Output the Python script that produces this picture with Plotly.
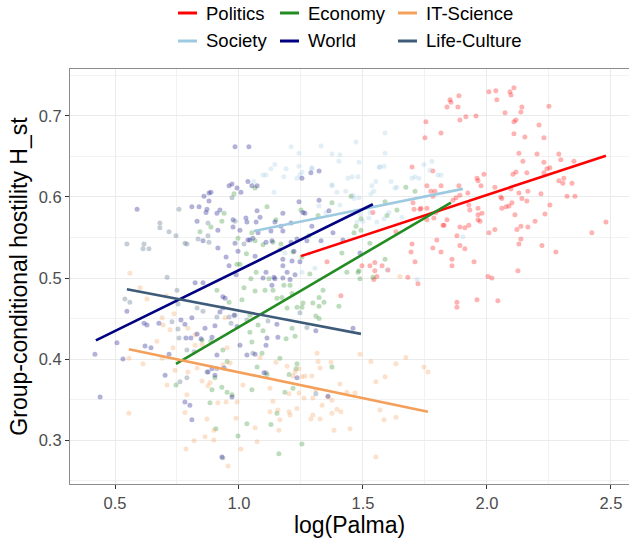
import plotly.graph_objects as go

categories = ["Politics", "Economy", "IT-Science", "Society", "World", "Life-Culture"]
colors = ["#FF0000", "#228B22", "#F4A05A", "#9ECAE1", "#000080", "#3E5C7A"]

politics_pts = [(1.851,0.720),(1.887,0.725),(1.883,0.711),(1.891,0.695),(1.915,0.699),(1.956,0.700),(2.008,0.730),(2.036,0.731),(2.040,0.720),(2.093,0.730),(2.097,0.726),(2.109,0.735),(2.141,0.711),(2.137,0.705),(2.073,0.704),(2.250,0.712),(2.117,0.695),(2.109,0.693),(2.109,0.678),(2.153,0.674),(2.210,0.689),(2.230,0.673),(2.129,0.654),(2.202,0.653),(2.290,0.653),(2.298,0.646),(2.351,0.644),(2.145,0.644),(2.230,0.643),(2.242,0.635),(2.254,0.636),(2.230,0.630),(2.117,0.631),(2.105,0.628),(2.161,0.630),(2.310,0.623),(2.290,0.620),(2.306,0.617),(2.343,0.617),(1.988,0.628),(1.960,0.623),(1.964,0.620),(1.976,0.614),(2.032,0.612),(1.887,0.614),(1.923,0.605),(1.891,0.602),(1.875,0.599),(1.863,0.596),(2.056,0.600),(2.060,0.598),(2.097,0.610),(2.129,0.605),(2.141,0.598),(2.165,0.607),(2.161,0.595),(2.218,0.604),(2.323,0.601),(2.355,0.601),(2.254,0.590),(2.101,0.593),(2.089,0.589),(2.077,0.588),(2.060,0.586),(1.927,0.590),(1.931,0.584),(1.964,0.586),(1.980,0.580),(1.964,0.578),(1.964,0.572),(1.972,0.570),(2.113,0.578),(2.234,0.579),(2.194,0.570),(2.480,0.569),(2.137,0.564),(2.165,0.563),(2.121,0.560),(2.032,0.560),(2.008,0.556),(1.927,0.565),(1.911,0.562),(1.891,0.563),(1.879,0.552),(2.423,0.556),(2.137,0.548),(2.129,0.542),(2.222,0.540),(1.891,0.540),(1.911,0.536),(2.278,0.532),(1.859,0.523),(1.948,0.520),(1.859,0.515),(2.125,0.509),(2.004,0.502),(2.020,0.500),(1.879,0.470),(1.879,0.464),(1.960,0.473),(2.044,0.472),
(1.839,0.711),(1.855,0.717),(1.754,0.693),(1.815,0.679),(1.750,0.673),(1.698,0.637),(1.782,0.632),(1.758,0.614),(1.774,0.607),(1.790,0.607),(1.815,0.614),(1.782,0.601),(1.702,0.593),(1.734,0.586),(1.758,0.586),(1.706,0.585),(1.794,0.581),(1.827,0.565),(1.540,0.581),(1.633,0.557),(1.698,0.542),(1.782,0.537),(1.815,0.532),(1.694,0.532),(1.355,0.520),(1.496,0.515),(1.528,0.515),(1.548,0.519),(1.548,0.509),(1.577,0.515),(1.601,0.510),(1.556,0.502),(1.730,0.585),(1.758,0.572),(1.786,0.574),(1.823,0.565),(1.839,0.572),(1.798,0.547),(1.710,0.520),(1.681,0.501),(1.722,0.493),(1.411,0.478),(1.544,0.498)]

economy_pts = [(0.980,0.604),(0.940,0.580),(0.931,0.570),(0.887,0.563),(0.843,0.557),(0.996,0.549),(1.052,0.556),(1.065,0.546),(0.992,0.517),(1.004,0.517),(1.048,0.499),(1.069,0.507),(1.065,0.611),
(1.113,0.588),(1.149,0.572),(1.169,0.542),(1.250,0.584),(1.375,0.593),(1.319,0.577),(1.452,0.601),(1.492,0.573),(1.472,0.564),(1.464,0.556),(1.415,0.531),(1.435,0.507),(1.484,0.509),(1.528,0.543),(1.589,0.594),(1.597,0.577),(1.637,0.584),(1.673,0.612),(1.710,0.607),(1.589,0.523),(1.282,0.552),(1.218,0.532),(1.254,0.526),(1.286,0.505),(1.492,0.559),(1.540,0.501),(1.488,0.499),(1.480,0.507),(1.403,0.465),(1.375,0.390),
(0.911,0.485),(1.012,0.473),(1.065,0.484),(0.851,0.423),(0.887,0.422),(0.935,0.411),(0.952,0.397),(0.903,0.377),(0.891,0.362),(0.931,0.365),(0.972,0.356),(0.883,0.346),(0.952,0.359),(0.746,0.368),(0.907,0.314),(0.996,0.305),(1.032,0.320),(1.044,0.454),(1.044,0.433),(1.052,0.421),(1.077,0.442),(1.073,0.390),(1.052,0.362),
(1.121,0.499),(1.137,0.485),(1.105,0.485),(1.153,0.475),(1.173,0.476),(1.194,0.463),(1.181,0.491),(1.214,0.481),(1.234,0.464),(1.254,0.464),(1.258,0.469),(1.298,0.469),(1.323,0.476),(1.339,0.485),(1.343,0.470),(1.323,0.465),(1.310,0.453),(1.323,0.450),(1.214,0.438),(1.226,0.428),(1.190,0.425),(1.097,0.435),(1.165,0.401),(1.093,0.407),(1.234,0.394),(1.230,0.388),(1.113,0.381),(1.202,0.381),(1.218,0.364),(1.185,0.359),(1.153,0.333),(1.129,0.319),(1.254,0.295),(1.161,0.283),
(1.097,0.541),(1.137,0.544),(1.165,0.535),(1.206,0.491),(1.030,0.530),(1.020,0.488),(0.960,0.470)]

itscience_pts = [(0.556,0.333),(0.601,0.488),(0.629,0.474),(0.556,0.401),(0.613,0.394),(0.669,0.422),(0.690,0.451),(0.694,0.442),(0.722,0.436),(0.690,0.401),(0.734,0.414),(0.738,0.456),(0.794,0.438),(0.823,0.430),(0.823,0.417),(0.851,0.418),(0.742,0.386),(0.710,0.368),(0.794,0.384),(0.831,0.389),(0.851,0.373),(0.883,0.371),(0.935,0.393),(0.875,0.367),(0.790,0.356),(0.782,0.334),(0.871,0.326),(0.899,0.312),(0.899,0.300),(0.863,0.304),(0.819,0.299),(0.786,0.289),(0.956,0.268),(0.988,0.327),(1.008,0.289),(0.915,0.346),(0.948,0.347),(0.992,0.347),(0.952,0.414),(0.964,0.395),(1.016,0.368),(1.065,0.315),(1.073,0.298),(0.944,0.451),(0.560,0.506),(0.706,0.478),
(1.085,0.402),(1.149,0.396),(1.194,0.391),(1.226,0.384),(1.242,0.388),(1.218,0.379),(1.254,0.378),(1.266,0.379),(1.294,0.379),(1.327,0.389),(1.315,0.407),(1.319,0.397),(1.371,0.396),(1.125,0.364),(1.202,0.357),(1.242,0.358),(1.262,0.352),(1.298,0.352),(1.310,0.362),(1.359,0.353),(1.375,0.349),(1.407,0.369),(1.435,0.359),(1.468,0.358),(1.335,0.343),(1.137,0.348),(1.125,0.335),(1.157,0.337),(1.202,0.335),(1.234,0.339),(1.206,0.331),(1.298,0.331),(1.290,0.326),(1.327,0.326),(1.375,0.333),(1.395,0.338),(1.411,0.335),(1.165,0.325),(1.161,0.312),(1.383,0.312),(1.448,0.314),(1.488,0.406),(1.532,0.397),(1.552,0.372),(1.589,0.378),(1.569,0.337),(1.585,0.325),(1.633,0.328),(1.633,0.394),(1.673,0.402),(1.746,0.390),(1.762,0.384),(1.552,0.279),(1.649,0.502)]

society_pts = [(1.210,0.662),(1.242,0.654),(1.331,0.663),(1.375,0.653),(1.472,0.668),(1.589,0.679),(1.407,0.652),(1.484,0.643),(1.403,0.644),(1.145,0.640),(1.129,0.635),(1.097,0.627),(1.190,0.635),(1.242,0.638),(1.294,0.636),(1.254,0.631),(1.234,0.623),(1.141,0.606),(1.375,0.614),(1.456,0.625),(1.480,0.625),(1.431,0.607),(1.460,0.602),(1.464,0.598),(1.484,0.599),(1.395,0.606),(1.565,0.637),(1.585,0.638),(1.552,0.619),(1.536,0.614),(1.544,0.607),(1.532,0.604),(1.629,0.611),(1.637,0.612),(1.710,0.625),(1.726,0.623),(1.746,0.640),(1.778,0.644),(1.815,0.627),(1.407,0.590),(1.323,0.589),(1.351,0.581),(1.488,0.579),(1.524,0.574),(1.585,0.573),(1.605,0.581),(1.254,0.507),(1.597,0.510),(1.500,0.570),(1.476,0.569),(1.060,0.619),(1.109,0.627),(1.185,0.531),(1.282,0.530),(1.306,0.512),(1.589,0.654),(1.569,0.637),(1.440,0.623),(1.613,0.619),(1.698,0.623),(1.770,0.633),(1.802,0.627),(1.375,0.615),(1.528,0.581),(1.556,0.569),(1.657,0.575),(1.718,0.498),(1.903,0.551),(1.181,0.625),(1.294,0.635),(1.246,0.627)]

world_pts = [(0.984,0.662),(1.040,0.662),(0.960,0.614),(0.972,0.616),(0.992,0.611),(1.008,0.606),(1.036,0.619),(1.052,0.614),(1.073,0.614),(0.859,0.601),(0.879,0.605),(0.887,0.606),(0.879,0.595),(0.589,0.585),(0.810,0.588),(0.839,0.588),(0.871,0.585),(0.867,0.581),(0.923,0.584),(0.911,0.580),(0.831,0.570),(0.976,0.572),(1.028,0.574),(1.032,0.569),(1.069,0.569),(1.073,0.583),(1.004,0.559),(0.976,0.563),(0.915,0.559),(0.855,0.546),(0.915,0.537),(0.984,0.543),(0.996,0.533),(1.036,0.547),(1.044,0.547),(1.056,0.549),(1.065,0.527),(0.948,0.526),(0.960,0.515),(0.988,0.504),(1.077,0.556),
(0.419,0.406),(0.440,0.353),(0.508,0.420),(0.532,0.400),(0.548,0.459),(0.617,0.444),(0.629,0.442),(0.645,0.414),(0.621,0.416),(0.702,0.380),(0.718,0.406),(0.677,0.444),(0.766,0.448),(0.782,0.443),(0.810,0.451),(0.823,0.494),(0.855,0.494),(0.786,0.426),(0.806,0.426),(0.831,0.431),(0.847,0.425),(0.863,0.438),(0.891,0.427),(0.903,0.441),(0.935,0.477),(0.944,0.475),(0.935,0.463),(0.923,0.458),(0.980,0.454),(0.992,0.440),(1.004,0.417),(0.911,0.405),(0.940,0.389),(0.891,0.388),(0.875,0.384),(0.802,0.343),(0.782,0.347),(0.810,0.325),(0.931,0.279),(0.903,0.380),(0.972,0.353),(1.032,0.405),(1.065,0.406),
(1.254,0.623),(1.290,0.630),(1.323,0.632),(1.242,0.594),(1.258,0.581),(1.266,0.580),(1.323,0.596),(1.363,0.583),(1.177,0.580),(1.145,0.569),(1.085,0.575),(1.129,0.558),(1.177,0.558),(1.169,0.564),(1.210,0.568),(1.294,0.564),(1.234,0.548),(1.210,0.544),(1.133,0.546),(1.109,0.544),(1.222,0.533),(1.274,0.546),(1.331,0.546),(1.379,0.556),(1.246,0.520),(1.214,0.521),(1.177,0.523),(1.177,0.515),(1.194,0.507),(1.141,0.501),(1.109,0.507),(1.226,0.504),(1.097,0.500),(1.145,0.499),(1.177,0.500),(1.206,0.498),(1.133,0.491),(1.153,0.443),(1.113,0.426),(1.109,0.417),(1.157,0.427),(1.310,0.435),(1.460,0.438),(1.234,0.377),(1.359,0.354),(1.101,0.383),(1.419,0.547),(1.488,0.531)]

lifeculture_pts = [(0.548,0.542),(0.617,0.542),(0.613,0.536),(0.637,0.536),(0.681,0.568),(0.681,0.562),(0.718,0.557),(0.758,0.585),(0.746,0.552),(0.782,0.543),(0.790,0.542),(0.835,0.548),(0.875,0.552),(0.879,0.544),(0.875,0.568),(0.972,0.599),(0.984,0.570),(1.020,0.542),(0.710,0.501),
(0.540,0.474),(0.560,0.470),(0.750,0.485),(0.754,0.468),(0.730,0.446),(0.754,0.437),(0.758,0.426),(0.790,0.411),(0.819,0.409),(0.831,0.463),(0.855,0.459),(0.911,0.452),(0.960,0.452),(0.984,0.454),(0.968,0.444),(1.032,0.448),(0.762,0.372),(0.790,0.377),(0.871,0.384),(0.911,0.388),(1.056,0.407),(0.935,0.278),
(1.117,0.447),(1.274,0.439),(1.246,0.457),(1.310,0.357),(1.109,0.383)]

all_pts = [politics_pts, economy_pts, itscience_pts, society_pts, world_pts, lifeculture_pts]

# fitted regression line end points per category
fit_x0 = [1.250, 0.746, 0.556, 1.060, 0.423, 0.548]
fit_x1 = [2.480, 1.855, 1.762, 1.903, 1.540, 1.492]
fit_y0 = [0.527, 0.394, 0.412, 0.558, 0.423, 0.486]
fit_y1 = [0.651, 0.593, 0.335, 0.610, 0.591, 0.431]

x_ticks = [0.5, 1.0, 1.5, 2.0, 2.5]
y_ticks = [0.3, 0.4, 0.5, 0.6, 0.7]

FONT = "Liberation Sans, Arial, Helvetica, sans-serif"

fig = go.Figure()
for cat, col, pts in zip(categories, colors, all_pts):
    fig.add_trace(go.Scatter(
        x=[p[0] for p in pts], y=[p[1] for p in pts], mode="markers",
        marker=dict(color=col, size=5, opacity=0.3, line=dict(width=0)),
        showlegend=False, hoverinfo="skip"))
for cat, col, a, b, c, d in zip(categories, colors, fit_x0, fit_x1, fit_y0, fit_y1):
    fig.add_trace(go.Scatter(x=[a, b], y=[c, d], mode="lines",
                             line=dict(color=col, width=2.6), name=cat, showlegend=False))

# plot area geometry (pixels)
L, R, T, B = 70, 629, 69, 484
def px(xp):
    return (xp - L) / (R - L)
def py(yp):
    return (B - yp) / (B - T)

# manual legend (ggplot style, 2 rows x 3 columns)
key_x = [178, 280, 398]
row_y = [13, 41]
shapes = []
annotations = []
for i, (cat, col) in enumerate(zip(categories, colors)):
    r, c = divmod(i, 3)
    x0 = key_x[c]
    shapes.append(dict(type="line", xref="paper", yref="paper",
                       x0=px(x0), x1=px(x0 + 19), y0=py(row_y[r]), y1=py(row_y[r]),
                       line=dict(color=col, width=3)))
    annotations.append(dict(xref="paper", yref="paper", x=px(x0 + 26), y=py(row_y[r]),
                            text=cat, showarrow=False, xanchor="left", yanchor="middle",
                            font=dict(family=FONT, size=18.5, color="black")))

fig.update_layout(
    width=629, height=540,
    margin=dict(l=L, r=629 - R, t=T, b=540 - B),
    plot_bgcolor="white", paper_bgcolor="white",
    font=dict(family=FONT),
    shapes=shapes, annotations=annotations,
    xaxis=dict(range=[0.3185, 2.573], tickvals=x_ticks, ticktext=[f"{v:.1f}" for v in x_ticks],
               showgrid=True, gridcolor="#EBEBEB", gridwidth=1.1,
               minor=dict(tickvals=[0.75, 1.25, 1.75, 2.25], showgrid=True, gridcolor="#F2F2F2", gridwidth=0.6),
               showline=True, linecolor="#8C8C8C", linewidth=1.2, mirror=True,
               ticks="outside", ticklen=4, tickcolor="#333333", tickwidth=1.1,
               tickfont=dict(size=16.5, color="#4D4D4D"), zeroline=False,
               title=dict(text="log(Palma)", font=dict(size=23, color="black"), standoff=4)),
    yaxis=dict(range=[0.2457, 0.758], tickvals=y_ticks, ticktext=[f"{v:.1f}" for v in y_ticks],
               showgrid=True, gridcolor="#EBEBEB", gridwidth=1.1,
               minor=dict(tickvals=[0.25, 0.35, 0.45, 0.55, 0.65, 0.75], showgrid=True, gridcolor="#F2F2F2", gridwidth=0.6),
               showline=True, linecolor="#8C8C8C", linewidth=1.2, mirror=True,
               ticks="outside", ticklen=4, tickcolor="#333333", tickwidth=1.1,
               tickfont=dict(size=16.5, color="#4D4D4D"), zeroline=False,
               title=dict(text="Group-conditional hostility H_st", font=dict(size=23, color="black"), standoff=4)),
)

fig.write_html("out.html")
